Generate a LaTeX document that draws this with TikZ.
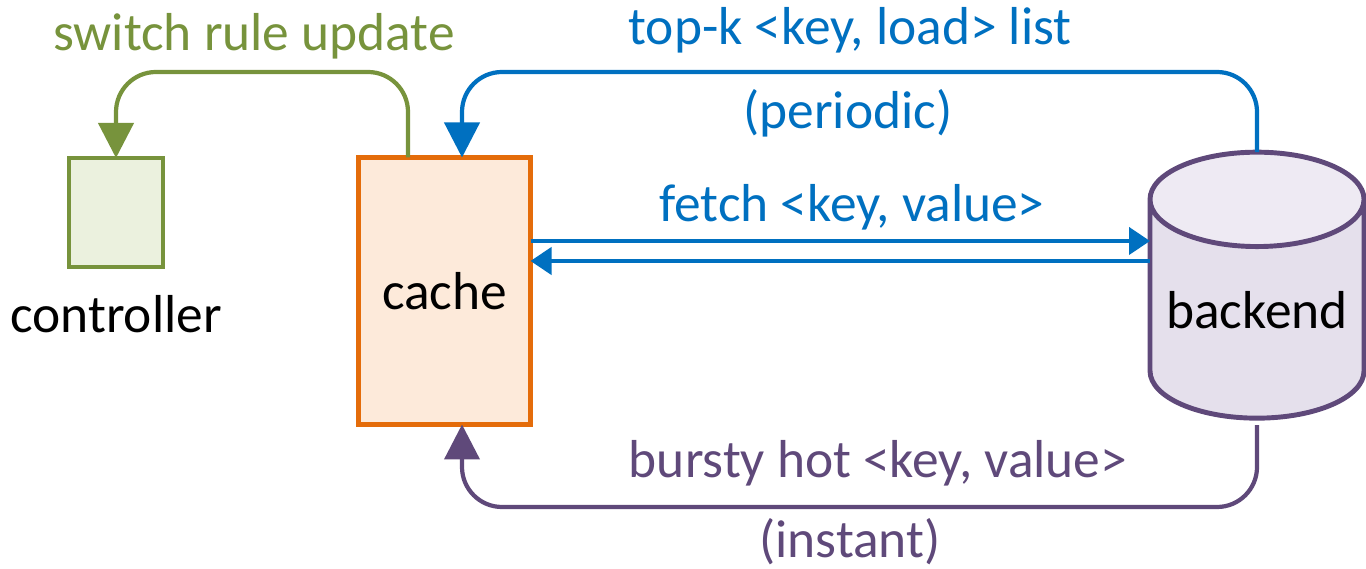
\documentclass[tikz,border=0pt]{standalone}
\usepackage{fontspec}
\setmainfont{Carlito}
\usepackage{xcolor}
\usetikzlibrary{shapes.geometric,arrows.meta}

\definecolor{ctrlgreen}{HTML}{77933C}
\definecolor{ctrlfill}{HTML}{EBF1DE}
\definecolor{cacheorange}{HTML}{E46C0A}
\definecolor{cachefill}{HTML}{FDEADA}
\definecolor{msgblue}{HTML}{0070C0}
\definecolor{backpurple}{HTML}{5F497A}
\definecolor{backfill}{HTML}{E5E0EC}
\definecolor{backtop}{HTML}{EEEAF3}

\begin{document}
\begin{tikzpicture}[
	font=\fontsize{15.2}{18}\selectfont,
	box/.style={draw, line width=1.4pt, inner sep=0pt, outer sep=0pt},
	flow/.style={line width=1.2pt, rounded corners=0.4cm, -{Triangle[length=0.35cm,width=0.35cm]}},
	fetcharrow/.style={line width=1.2pt, msgblue, -{Triangle[length=0.21cm,width=0.27cm]}}
	]

	\useasboundingbox (0,0) rectangle (13.66,5.69);
	\coordinate (toplane) at (0,4.97);
	\coordinate (botlane) at (0,0.69);

	\node[box, ctrlgreen, fill=ctrlfill, minimum width=0.94cm, minimum height=1.09cm,
		label={[black, yshift=-0.16cm]below:controller}] (controller) at (1.16,3.565) {};
	\node[box, cacheorange, fill=cachefill, minimum width=1.72cm, minimum height=2.67cm,
		text=black] (cache) at (4.445,2.78) {cache};
	\node[cylinder, shape border rotate=90, aspect=0.52, draw=backpurple, line width=1.4pt,
		cylinder uses custom fill, cylinder body fill=backfill, cylinder end fill=backtop,
		minimum width=2.14cm, minimum height=2.66cm, inner sep=0pt, outer sep=0pt,
		text=black] (backend) at (12.57,2.59) {backend};

	% rule update to the controller
	\draw[flow, ctrlgreen] ([xshift=-0.365cm]cache.north) -- ([xshift=-0.365cm]cache.north |- toplane) -| (controller.north);
	\node[ctrlgreen] (rulelbl) at (2.54,5.33) {switch rule update};

	% periodic report
	\draw[flow, msgblue] (backend.north) -- (backend.north |- toplane) -| ([xshift=0.175cm]cache.north);
	\node[msgblue] (topklbl) at (8.50,5.39) {top-k <key, load> list};
	\node[msgblue] (periodiclbl) at (8.48,4.56) {(periodic)};

	% fetch
	\draw[fetcharrow] ([yshift=0.5cm]cache.east) -- ([yshift=0.5cm]cache.east -| backend.west);
	\draw[fetcharrow] ([yshift=0.3cm]cache.east -| backend.west) -- ([yshift=0.3cm]cache.east);
	\node[msgblue] (fetchlbl) at (8.52,3.62) {fetch <key, value>};

	% instant push
	\draw[flow, backpurple] ([yshift=-0.07cm]backend.south) -- ([yshift=-0.07cm]backend.south |- botlane) -| ([xshift=0.175cm]cache.south);
	\node[backpurple] (burstylbl) at (8.78,1.06) {bursty hot <key, value>};
	\node[backpurple] (instantlbl) at (8.50,0.27) {(instant)};

\end{tikzpicture}
\end{document}
